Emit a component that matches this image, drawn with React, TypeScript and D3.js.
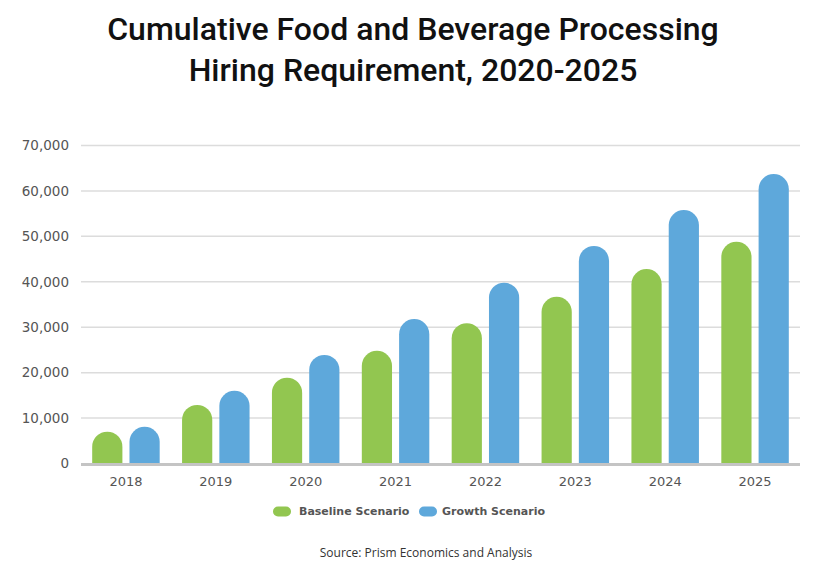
import React from "react";
import * as d3 from "d3";

const years = ["2018", "2019", "2020", "2021", "2022", "2023", "2024", "2025"];
const baseline = [7000, 12900, 18900, 24800, 30900, 36700, 42800, 48800];
const growth = [8100, 16000, 23900, 31800, 39800, 47900, 55800, 63700];
const yTicks = [0, 10000, 20000, 30000, 40000, 50000, 60000, 70000];
const seriesNames = ["Baseline Scenario", "Growth Scenario"];
const colors = ["#92C650", "#5EA8DB"];

const W = 817;
const H = 568;
const left = 81;
const right = 800;
const top = 145.5;
const bottom = 463.5;

function barPath(x: number, w: number, yTop: number, yBase: number) {
  const r = w / 2;
  const p = d3.path();
  p.moveTo(x, yBase);
  p.lineTo(x, yTop + r);
  p.arc(x + r, yTop + r, r, Math.PI, 0);
  p.lineTo(x + w, yBase);
  p.closePath();
  return p.toString();
}

export default function App() {
  const x0 = d3.scaleBand<string>().domain(years).range([left, right]).paddingInner(0).paddingOuter(0);
  const x1 = d3.scaleBand<string>().domain(seriesNames).range([0, x0.bandwidth()]).paddingInner(0.19).paddingOuter(0.3);
  const y = d3.scaleLinear().domain([0, 70000]).range([bottom, top]);
  const fmt = d3.format(",");
  const data = [baseline, growth];
  const tickFont = "'DejaVu Sans', sans-serif";

  return (
    <svg width={W} height={H} style={{ position: "absolute", left: 0, top: 0, background: "#fff" }}>
      <text x={413} y={40} textAnchor="middle" fontFamily="Roboto, sans-serif" fontWeight={500} fontSize={32} fill="#111">
        Cumulative Food and Beverage Processing
      </text>
      <text x={413} y={81} textAnchor="middle" fontFamily="Roboto, sans-serif" fontWeight={500} fontSize={32} fill="#111">
        Hiring Requirement, 2020-2025
      </text>

      {yTicks.map((t) => (
        <g key={t}>
          {t > 0 && <line x1={left} x2={right} y1={y(t)} y2={y(t)} stroke="#dcdcdc" strokeWidth={1.5} />}
          <text x={69} y={y(t)} dy="0.35em" textAnchor="end" fontFamily={tickFont} fontSize={13.5} fill="#555">
            {fmt(t)}
          </text>
        </g>
      ))}

      {years.map((yr, i) => (
        <g key={yr} transform={`translate(${x0(yr)},0)`}>
          {data.map((vals, s) => (
            <path
              key={s}
              d={barPath(x1(seriesNames[s])!, x1.bandwidth(), y(vals[i]), bottom)}
              fill={colors[s]}
            />
          ))}
          <text x={x0.bandwidth() / 2} y={486} textAnchor="middle" fontFamily={tickFont} fontSize={13} fill="#555">
            {yr}
          </text>
        </g>
      ))}

      <line x1={left} x2={right} y1={bottom + 1} y2={bottom + 1} stroke="#c4c4c4" strokeWidth={3} />

      <g fontFamily={tickFont} fontSize={11} fontWeight="bold" fill="#555">
        <rect x={273} y={506.5} width={18} height={10} rx={5} fill={colors[0]} />
        <text x={299} y={511.5} dy="0.35em">{seriesNames[0]}</text>
        <rect x={419} y={506.5} width={18} height={10} rx={5} fill={colors[1]} />
        <text x={442} y={511.5} dy="0.35em">{seriesNames[1]}</text>
      </g>

      <text x={426} y={553} dy="0.35em" textAnchor="middle" fontFamily="'Open Sans', sans-serif" fontSize={12} fill="#333">
        Source: Prism Economics and Analysis
      </text>
    </svg>
  );
}
